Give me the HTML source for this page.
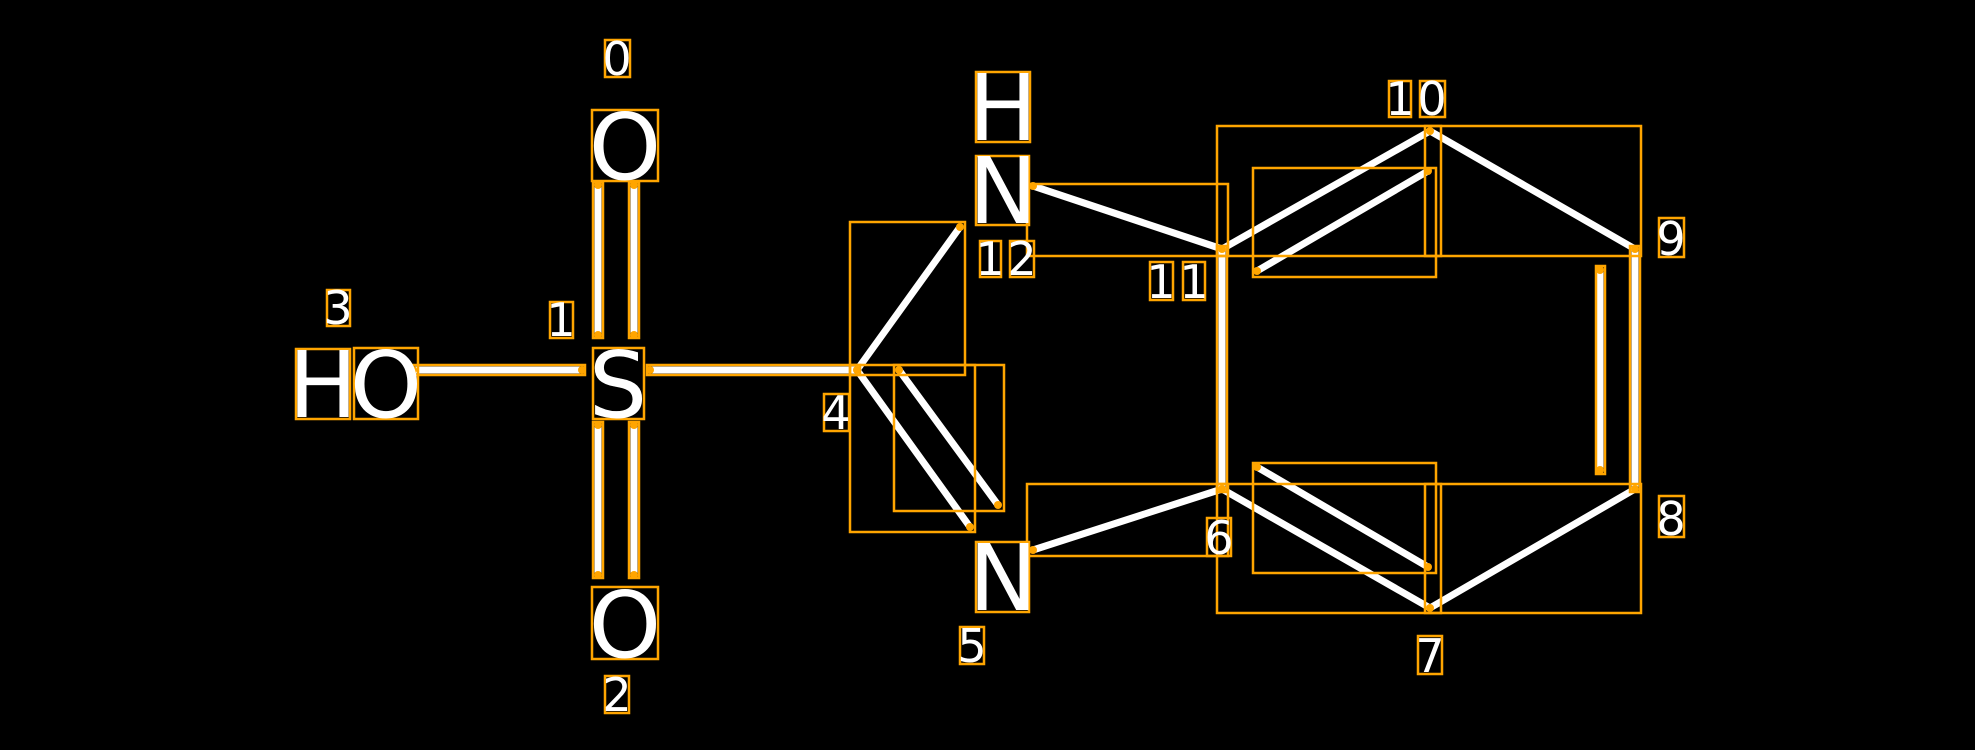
<!DOCTYPE html>
<html><head><meta charset="utf-8"><style>
html,body{margin:0;padding:0;background:#000;}
svg{display:block;}
text{font-family:"DejaVu Sans","Liberation Sans",sans-serif;fill:#fff;}
</style></head><body>
<svg width="1975" height="750" viewBox="0 0 1975 750" xmlns="http://www.w3.org/2000/svg">
<rect width="1975" height="750" fill="#000"/>
<g stroke="#fff" stroke-width="7" stroke-linecap="round" fill="none">
<line x1="413" y1="370" x2="582" y2="370"/>
<line x1="650" y1="370" x2="857" y2="370"/>
<line x1="598" y1="185" x2="598" y2="335"/>
<line x1="634" y1="185" x2="634" y2="335"/>
<line x1="598" y1="425" x2="598" y2="575"/>
<line x1="634" y1="425" x2="634" y2="575"/>
<line x1="857" y1="370" x2="960" y2="227"/>
<line x1="857" y1="370" x2="970" y2="527"/>
<line x1="899" y1="370" x2="998" y2="505"/>
<line x1="1033" y1="186" x2="1222" y2="249"/>
<line x1="1222" y1="249" x2="1430" y2="131"/>
<line x1="1257" y1="271" x2="1428" y2="171"/>
<line x1="1430" y1="131" x2="1635" y2="249"/>
<line x1="1635" y1="249" x2="1635" y2="489"/>
<line x1="1600" y1="270" x2="1600" y2="470"/>
<line x1="1635" y1="489" x2="1430" y2="608"/>
<line x1="1430" y1="608" x2="1222" y2="489"/>
<line x1="1257" y1="467" x2="1428" y2="567"/>
<line x1="1222" y1="249" x2="1222" y2="489"/>
<line x1="1222" y1="489" x2="1033" y2="550"/>
</g>
<g stroke="#FFA500" stroke-width="2.5" fill="none">
<rect x="296" y="349" width="54" height="70"/>
<rect x="354" y="348" width="64" height="71"/>
<rect x="593" y="348" width="51" height="71"/>
<rect x="592" y="110" width="66" height="71"/>
<rect x="592" y="587" width="66" height="72"/>
<rect x="976" y="156" width="53" height="69"/>
<rect x="976" y="72" width="54" height="70"/>
<rect x="976" y="542" width="53" height="70"/>
<rect x="605" y="40" width="25" height="37"/>
<rect x="550" y="302" width="23" height="36"/>
<rect x="327" y="290" width="23" height="36"/>
<rect x="605" y="676" width="24" height="37"/>
<rect x="824" y="394" width="25" height="37"/>
<rect x="980" y="241" width="21" height="36"/>
<rect x="1010" y="241" width="24" height="36"/>
<rect x="960" y="627" width="24" height="37"/>
<rect x="1150" y="262" width="23" height="38"/>
<rect x="1183" y="262" width="22" height="38"/>
<rect x="1389" y="81" width="22" height="36"/>
<rect x="1420" y="81" width="25" height="36"/>
<rect x="1659" y="218" width="25" height="39"/>
<rect x="1659" y="496" width="25" height="41"/>
<rect x="1418" y="636" width="24" height="38"/>
<rect x="1207" y="518" width="24" height="38"/>
<rect x="410" y="365" width="175" height="10"/>
<rect x="647" y="365" width="213" height="10"/>
<rect x="593" y="182" width="10" height="156"/>
<rect x="629" y="182" width="10" height="156"/>
<rect x="593" y="422" width="10" height="156"/>
<rect x="629" y="422" width="10" height="156"/>
<rect x="850" y="222" width="115" height="153"/>
<rect x="850" y="365" width="125" height="167"/>
<rect x="894" y="365" width="110" height="146"/>
<rect x="1027" y="184" width="201" height="72"/>
<rect x="1217" y="126" width="224" height="130"/>
<rect x="1253" y="168" width="183" height="109"/>
<rect x="1425" y="126" width="216" height="130"/>
<rect x="1630" y="246" width="10" height="246"/>
<rect x="1596" y="266" width="9" height="208"/>
<rect x="1425" y="484" width="216" height="129"/>
<rect x="1217" y="484" width="224" height="129"/>
<rect x="1253" y="463" width="183" height="110"/>
<rect x="1217" y="246" width="10" height="246"/>
<rect x="1027" y="484" width="201" height="72"/>
</g>
<g fill="#FFA500">
<circle cx="413" cy="370" r="4"/><circle cx="582" cy="370" r="4"/>
<circle cx="650" cy="370" r="4"/><circle cx="857" cy="370" r="4"/>
<circle cx="598" cy="185" r="4"/><circle cx="634" cy="185" r="4"/>
<circle cx="598" cy="335" r="4"/><circle cx="634" cy="335" r="4"/>
<circle cx="598" cy="425" r="4"/><circle cx="634" cy="425" r="4"/>
<circle cx="598" cy="575" r="4"/><circle cx="634" cy="575" r="4"/>
<circle cx="960" cy="227" r="4"/><circle cx="970" cy="527" r="4"/>
<circle cx="899" cy="370" r="4"/><circle cx="998" cy="505" r="4"/>
<circle cx="1033" cy="186" r="4"/><circle cx="1222" cy="249" r="4"/>
<circle cx="1430" cy="131" r="4"/><circle cx="1257" cy="271" r="4"/>
<circle cx="1428" cy="171" r="4"/><circle cx="1635" cy="249" r="4"/>
<circle cx="1635" cy="489" r="4"/><circle cx="1600" cy="270" r="4"/>
<circle cx="1600" cy="470" r="4"/><circle cx="1430" cy="608" r="4"/>
<circle cx="1222" cy="489" r="4"/><circle cx="1257" cy="467" r="4"/>
<circle cx="1428" cy="567" r="4"/><circle cx="1033" cy="550" r="4"/>
</g>
<g font-size="92" text-anchor="middle">
<text x="323" y="417">H</text>
<text x="386" y="417">O</text>
<text x="618" y="417">S</text>
<text x="625" y="179">O</text>
<text x="625" y="657">O</text>
<text x="1003" y="140">H</text>
<text x="1003" y="223">N</text>
<text x="1003" y="610">N</text>
</g>
<g font-size="46" text-anchor="middle">
<text x="617" y="75">0</text>
<text x="561" y="336">1</text>
<text x="338" y="324">3</text>
<text x="617" y="711">2</text>
<text x="836" y="429">4</text>
<text x="990" y="275">1</text>
<text x="1022" y="275">2</text>
<text x="972" y="662">5</text>
<text x="1161" y="298">1</text>
<text x="1194" y="298">1</text>
<text x="1400" y="115">1</text>
<text x="1432" y="115">0</text>
<text x="1671" y="255">9</text>
<text x="1671" y="535">8</text>
<text x="1430" y="672">7</text>
<text x="1219" y="554">6</text>
</g>
</svg>
</body></html>
